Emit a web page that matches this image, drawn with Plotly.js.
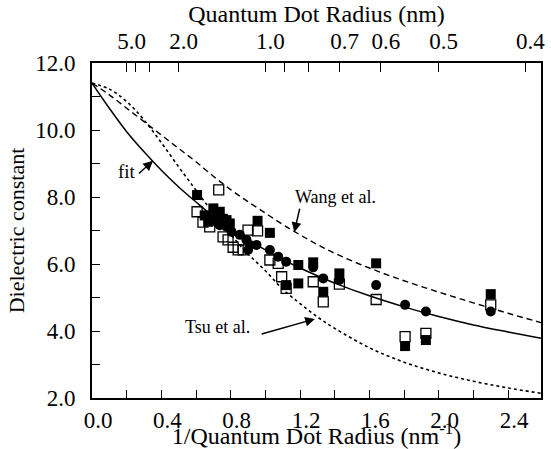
<!DOCTYPE html>
<html>
<head>
<meta charset="utf-8">
<script src="https://cdn.plot.ly/plotly-3.0.1.min.js"></script>
<style>
html,body{margin:0;padding:0;background:#fff;}
#chart{width:551px;height:449px;}
</style>
</head>
<body>
<div id="chart"></div>
<script>
// Curves: x = 1/R (nm^-1), y = dielectric constant
const curveX = [0, 0.1, 0.2, 0.3, 0.4, 0.5, 0.6, 0.7, 0.8, 0.9, 1.0, 1.1, 1.2, 1.3, 1.4, 1.6, 1.8, 2.0, 2.2, 2.4, 2.59];
const fitY   = [11.4, 10.65, 9.95, 9.35, 8.8, 8.3, 7.85, 7.42, 7.05, 6.72, 6.42, 6.14, 5.88, 5.65, 5.43, 5.05, 4.72, 4.43, 4.18, 3.97, 3.78];
const wangY  = [11.4, 11.05, 10.65, 10.25, 9.85, 9.45, 9.05, 8.62, 8.22, 7.86, 7.52, 7.18, 6.87, 6.58, 6.32, 5.88, 5.5, 5.16, 4.84, 4.53, 4.25];
const tsuY   = [11.4, 11.22, 10.85, 10.3, 9.62, 8.9, 8.2, 7.52, 6.88, 6.3, 5.8, 5.25, 4.82, 4.42, 4.08, 3.5, 3.07, 2.75, 2.5, 2.3, 2.14];

// Data points
const filledSqX = [0.606, 0.65, 0.67, 0.68, 0.70, 0.72, 0.737, 0.755, 0.776, 0.795, 0.955, 1.026, 1.12, 1.19, 1.19, 1.276, 1.334, 1.427, 1.639, 1.806, 1.926, 2.30];
const filledSqY = [8.06, 7.45, 7.26, 7.36, 7.66, 7.45, 7.56, 7.35, 7.31, 7.21, 7.29, 6.93, 5.37, 5.97, 5.42, 6.05, 5.17, 5.72, 6.02, 3.55, 3.73, 5.10];
const openSqX = [0.606, 0.731, 0.64, 0.679, 0.756, 0.785, 0.814, 0.843, 0.872, 0.90, 0.955, 1.026, 1.074, 1.094, 1.12, 1.276, 1.334, 1.427, 1.639, 1.806, 1.926, 2.30];
const openSqY = [7.56, 8.21, 7.25, 7.11, 6.81, 6.72, 6.50, 6.42, 6.42, 7.01, 6.99, 6.12, 6.02, 5.62, 5.27, 5.47, 4.87, 5.40, 4.94, 3.83, 3.93, 4.78];
const circX = [0.70, 0.72, 0.737, 0.776, 0.805, 0.853, 0.891, 0.91, 0.90, 0.949, 1.026, 1.074, 1.12, 1.276, 1.334, 1.427, 1.639, 1.806, 1.926, 2.30];
const circY = [7.36, 7.25, 7.16, 7.11, 6.96, 6.87, 6.72, 6.57, 6.42, 6.57, 6.42, 6.22, 6.07, 5.9, 5.57, 5.52, 5.37, 4.78, 4.58, 4.58];

// Axis ticks
const bottomTicks = [0, 0.4, 0.8, 1.2, 1.6, 2.0, 2.4];
const bottomTickText = ['0.0', '0.4', '0.8', '1.2', '1.6', '2.0', '2.4'];
const topRadii = [5, 4, 3, 2, 1, 0.9, 0.8, 0.7, 0.6, 0.5, 0.4];
const topTickText = ['5.0', '', '', '2.0', '1.0', '', '', '0.7', '0.6', '0.5', '0.4'];
const yTicks = [2, 4, 6, 8, 10, 12];
const yTickText = ['2.0', '4.0', '6.0', '8.0', '10.0', '12.0'];

const FF = 'Liberation Serif, serif';
const traces = [
  {x: curveX, y: wangY, mode: 'lines', line: {color: 'black', width: 1.4, dash: '6px,4px', shape: 'spline'}},
  {x: curveX, y: tsuY, mode: 'lines', line: {color: 'black', width: 1.6, dash: 'dot', shape: 'spline'}},
  {x: curveX, y: fitY, mode: 'lines', line: {color: 'black', width: 1.5, shape: 'spline'}},
  {x: openSqX, y: openSqY, mode: 'markers', marker: {symbol: 'square-open', size: 10, color: 'black', line: {width: 1.3}}},
  {x: filledSqX, y: filledSqY, mode: 'markers', marker: {symbol: 'square', size: 10, color: 'black'}},
  {x: circX, y: circY, mode: 'markers', marker: {symbol: 'circle', size: 10, color: 'black'}},
  {x: [1], y: [null], xaxis: 'x2', mode: 'markers'}
];

const xr = [0, 2.59];
const layout = {
  width: 551, height: 449,
  margin: {l: 92, r: 10, t: 63, b: 51},
  paper_bgcolor: 'white', plot_bgcolor: 'white',
  showlegend: false,
  font: {family: FF, color: 'black', size: 23},
  xaxis: {
    range: xr, tickmode: 'array', tickvals: bottomTicks, ticktext: bottomTickText,
    ticks: 'inside', ticklen: 8, tickwidth: 1, tickcolor: 'black',
    minor: {dtick: 0.2, tick0: 0, ticks: 'inside', ticklen: 8, tickwidth: 1, tickcolor: 'black'},
    showline: true, linewidth: 2, linecolor: 'black', mirror: true,
    showgrid: false, zeroline: false, ticklabelshift: 6,
    title: {text: '1/Quantum Dot Radius (nm<sup>-1</sup>)', standoff: 0, font: {size: 24}}
  },
  xaxis2: {
    range: xr, overlaying: 'x', side: 'top', anchor: 'y',
    tickmode: 'array', tickvals: topRadii.map(r => 1 / r), ticktext: topTickText,
    ticks: 'inside', ticklen: 9, tickwidth: 1, tickcolor: 'black',
    showline: false, showgrid: false, zeroline: false, ticklabelshift: 5, ticklabelstandoff: 8,
    title: {text: 'Quantum Dot Radius (nm)', standoff: 0, font: {size: 24}}
  },
  yaxis: {
    range: [2, 12], tickmode: 'array', tickvals: yTicks, ticktext: yTickText,
    ticks: 'inside', ticklen: 8, tickwidth: 1, tickcolor: 'black',
    minor: {dtick: 1, tick0: 0, ticks: 'inside', ticklen: 8, tickwidth: 1, tickcolor: 'black'},
    showline: true, linewidth: 2, linecolor: 'black', mirror: true,
    showgrid: false, zeroline: false, ticklabelstandoff: 10,
    title: {text: 'Dielectric constant', standoff: 4, font: {size: 22}}
  },
  annotations: [
    {x: 0.2, y: 8.76, text: 'fit', showarrow: false, font: {size: 19}},
    {x: 0.352, y: 9.08, ax: 0.262, ay: 8.66, axref: 'x', ayref: 'y', text: '', showarrow: true, arrowhead: 2, arrowsize: 1.3, arrowwidth: 1.5, arrowcolor: 'black'},
    {x: 1.405, y: 8.0, text: 'Wang et al.', showarrow: false, font: {size: 18}},
    {x: 1.167, y: 6.95, ax: 1.2, ay: 7.7, axref: 'x', ayref: 'y', text: '', showarrow: true, arrowhead: 2, arrowsize: 1.3, arrowwidth: 1.5, arrowcolor: 'black'},
    {x: 0.726, y: 4.12, text: 'Tsu et al.', showarrow: false, font: {size: 18}},
    {x: 1.286, y: 4.36, ax: 0.97, ay: 3.9, axref: 'x', ayref: 'y', text: '', showarrow: true, arrowhead: 2, arrowsize: 1.3, arrowwidth: 1.5, arrowcolor: 'black'}
  ]
};
Plotly.newPlot('chart', traces, layout, {staticPlot: true, displayModeBar: false});
</script>
</body>
</html>
